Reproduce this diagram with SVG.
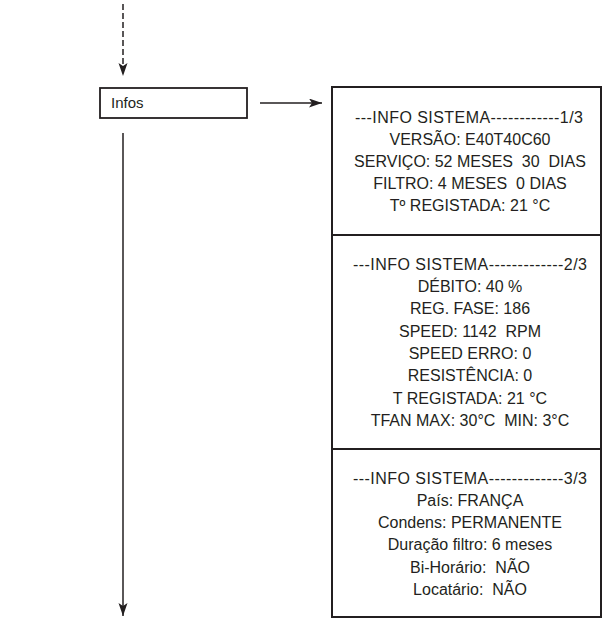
<svg xmlns="http://www.w3.org/2000/svg" width="604" height="619" viewBox="0 0 604 619">
<style>
.bg{fill:#ffffff}
.box{fill:#ffffff;stroke:#231f20;stroke-width:2}
.div{stroke:#231f20;stroke-width:2}
.conn{stroke:#231f20;stroke-width:1.5;fill:none}
.dash{stroke-dasharray:6 3}
.t{font-family:"Liberation Sans",Arial,sans-serif;font-size:16px;fill:#231f20;text-anchor:middle}
.lbl{font-family:"Liberation Sans",Arial,sans-serif;font-size:15px;fill:#231f20}
</style>
<defs>
<marker id="ah" markerUnits="userSpaceOnUse" markerWidth="14" markerHeight="10" refX="13" refY="4.5" orient="auto">
<path d="M0,0 L13,4.5 L0,9 L3,4.5 z" fill="#231f20"/>
</marker>
</defs>
<rect class="bg" x="0" y="0" width="604" height="619"/>
<g id="connectors">
<line class="conn dash" x1="123" y1="4" x2="123" y2="76" marker-end="url(#ah)"/>
<line class="conn" x1="260" y1="103" x2="322" y2="103" marker-end="url(#ah)"/>
<line class="conn" x1="123" y1="133" x2="123" y2="616" marker-end="url(#ah)"/>
</g>
<g id="infos">
<rect class="box" x="100" y="88" width="147" height="30" style="stroke-width:1.8"/>
<text class="lbl" x="111" y="108">Infos</text>
</g>
<g id="info-sistema">
<rect class="box" x="332" y="87" width="269" height="530"/>
<line class="div" x1="332" y1="235" x2="601" y2="235"/>
<line class="div" x1="332" y1="449" x2="601" y2="449"/>
</g>
<g id="page1">
<text class="t" x="469" y="123" textLength="228" lengthAdjust="spacing">---INFO SISTEMA------------1/3</text>
<text class="t" x="470" y="145">VERSÃO: E40T40C60</text>
<text class="t" x="470" y="167" xml:space="preserve">SERVIÇO: 52 MESES  30  DIAS</text>
<text class="t" x="470" y="189" xml:space="preserve">FILTRO: 4 MESES  0 DIAS</text>
<text class="t" x="470" y="211">Tº REGISTADA: 21 °C</text>
</g>
<g id="page2">
<text class="t" x="470" y="270" textLength="234" lengthAdjust="spacing">---INFO SISTEMA-------------2/3</text>
<text class="t" x="470" y="292">DÉBITO: 40 %</text>
<text class="t" x="470" y="314">REG. FASE: 186</text>
<text class="t" x="470" y="337" xml:space="preserve">SPEED: 1142  RPM</text>
<text class="t" x="470" y="359">SPEED ERRO: 0</text>
<text class="t" x="470" y="381">RESISTÊNCIA: 0</text>
<text class="t" x="470" y="404">T REGISTADA: 21 °C</text>
<text class="t" x="470" y="426" xml:space="preserve">TFAN MAX: 30°C  MIN: 3°C</text>
</g>
<g id="page3">
<text class="t" x="470" y="484" textLength="234" lengthAdjust="spacing">---INFO SISTEMA-------------3/3</text>
<text class="t" x="470" y="506">País: FRANÇA</text>
<text class="t" x="470" y="528">Condens: PERMANENTE</text>
<text class="t" x="470" y="550">Duração filtro: 6 meses</text>
<text class="t" x="470" y="573" xml:space="preserve">Bi-Horário:  NÃO</text>
<text class="t" x="470" y="595" xml:space="preserve">Locatário:  NÃO</text>
</g>
</svg>
